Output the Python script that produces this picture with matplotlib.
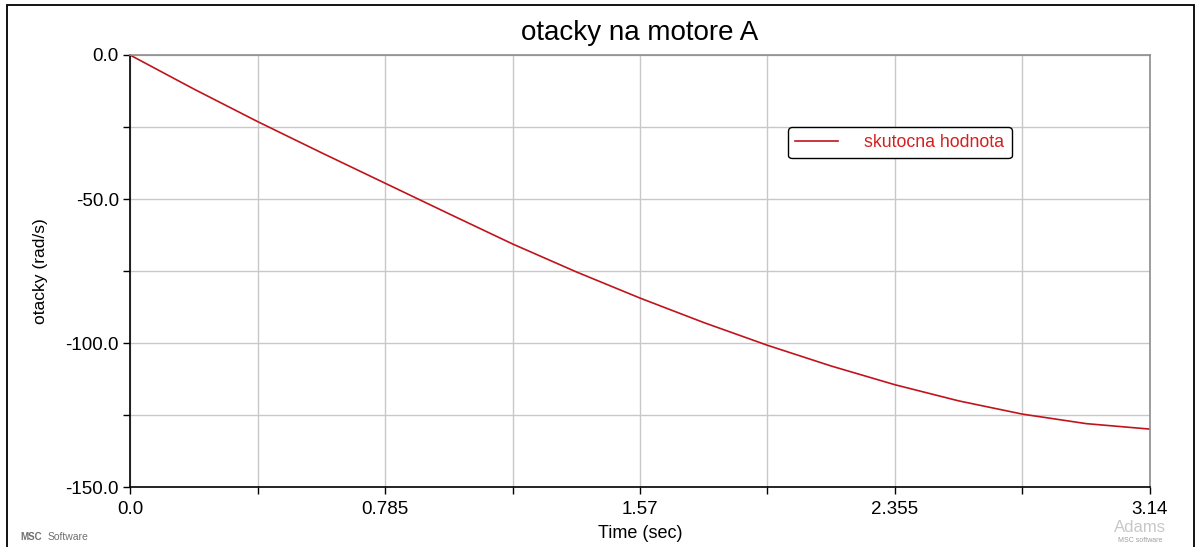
import matplotlib
matplotlib.use("Agg")
import matplotlib.pyplot as plt
from matplotlib.patches import Rectangle
from matplotlib.ticker import MultipleLocator, FixedLocator, FormatStrFormatter

plt.rcParams['font.family'] = ['Liberation Sans', 'DejaVu Sans']

# motor speed samples (time in sec, speed in rad/s)
time_s = [0.0, 0.19625, 0.3925, 0.58875, 0.785, 0.98125, 1.1775, 1.37375, 1.57,
          1.76625, 1.9625, 2.15875, 2.355, 2.55125, 2.7475, 2.94375, 3.14]
speed = [0.0, -11.8, -23.1, -33.9, -44.5, -55.1, -65.6, -75.3, -84.4,
         -92.9, -100.8, -108.0, -114.5, -120.1, -124.7, -128.0, -129.9]

x_ticks = [0.0, 0.785, 1.57, 2.355, 3.14]
x_labels = ["0.0", "0.785", "1.57", "2.355", "3.14"]

fig = plt.figure(figsize=(12.01, 5.47), dpi=100)
ax = fig.add_axes([130/1201, 1 - 487/547, 1020/1201, 432/547])

ax.plot(time_s, speed, color="#c0141c", lw=1.2, label="skutocna hodnota")

ax.set_xlim(0, 3.14)
ax.set_ylim(-150, 0)
ax.xaxis.set_major_locator(FixedLocator(x_ticks))
ax.set_xticklabels(x_labels)
ax.xaxis.set_minor_locator(FixedLocator([0.3925, 1.1775, 1.9625, 2.7475]))
ax.yaxis.set_major_locator(MultipleLocator(50))
ax.yaxis.set_minor_locator(MultipleLocator(25))
ax.yaxis.set_major_formatter(FormatStrFormatter("%.1f"))

ax.grid(True, which="both", color="#c8c8c8", lw=1)
ax.set_axisbelow(True)
ax.tick_params(which="both", direction="out", length=5, width=1, color="black",
               labelsize=13.5, pad=3)
ax.tick_params(axis="x", which="both", pad=5)

for side in ["left", "bottom"]:
    ax.spines[side].set_color("black")
    ax.spines[side].set_linewidth(1.2)
for side in ["top", "right"]:
    ax.spines[side].set_color("#8c8c8c")
    ax.spines[side].set_linewidth(1.2)

fig.text(640/1201, 1 - 33/547, "otacky na motore A", ha="center", va="center", fontsize=20)
fig.text(640/1201, 1 - 533/547, "Time (sec)", ha="center", va="center", fontsize=13)
fig.text(40/1201, 1 - 271/547, "otacky (rad/s)", ha="center", va="center",
         rotation=90, fontsize=12.5)

leg = ax.legend(loc="upper left", bbox_to_anchor=((788 - 130)/1020, (487 - 127)/432),
                frameon=True, fontsize=12.8, handlelength=2.4, handletextpad=1.5,
                borderpad=0.4, borderaxespad=0, fancybox=True, framealpha=1)
leg.get_frame().set_edgecolor("black")
leg.get_frame().set_linewidth(1.0)
for t in leg.get_texts():
    t.set_color("#d42020")

# outer frame
fig.patches.append(Rectangle((7/1201, -0.01), 1187/1201, 1 - 5/547 + 0.01,
                             transform=fig.transFigure, fill=False,
                             edgecolor="black", lw=1.3))

fig.text(20/1201, 1 - 537/547, "MSC", fontsize=7, color="#707070", va="center",
         fontweight="bold")
fig.text(48/1201, 1 - 537/547, "Software", fontsize=7.5, color="#707070", va="center")
fig.text(1140/1201, 1 - 527/547, "Adams", fontsize=12, color="#c8c8c8",
         ha="center", va="center")
fig.text(1140/1201, 1 - 541/547, "MSC software", fontsize=5, color="#a0a0a0",
         ha="center", va="center")

fig.savefig("out.png", dpi=100)
